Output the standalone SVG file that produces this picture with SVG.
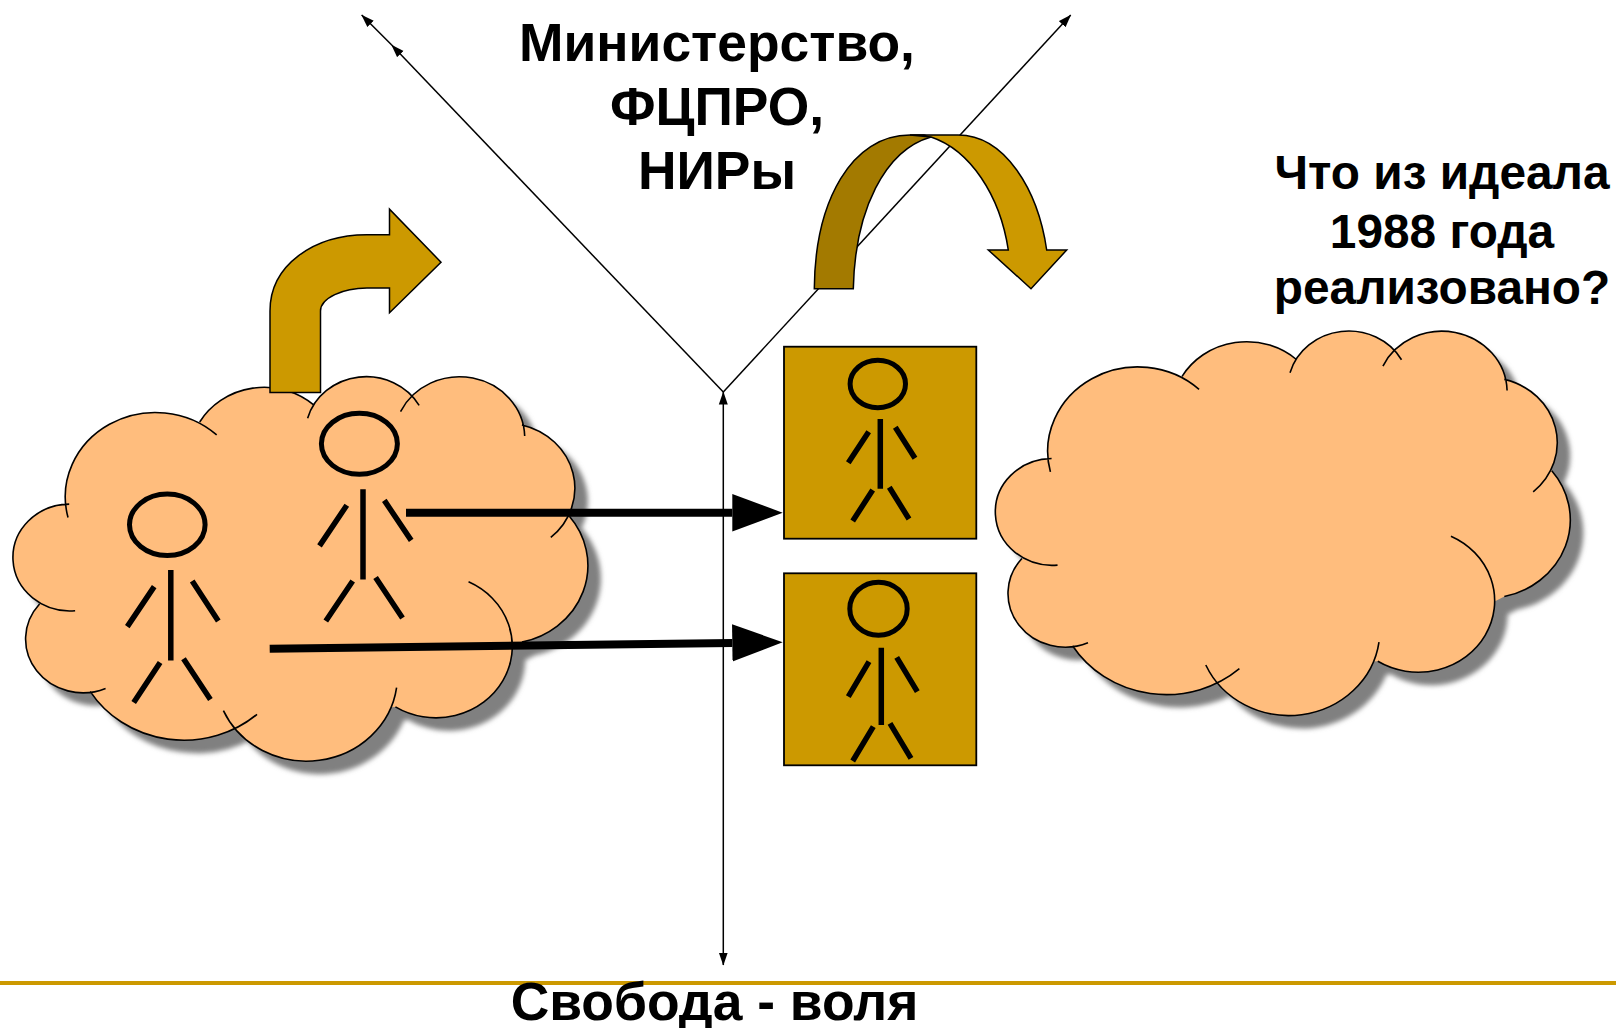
<svg xmlns="http://www.w3.org/2000/svg" xmlns:xlink="http://www.w3.org/1999/xlink" width="1616" height="1028" viewBox="0 0 1616 1028">
<style>
.t{font-family:"Liberation Sans",Arial,sans-serif;font-weight:bold;fill:#000;text-anchor:middle}
.big{font-size:53.4px}
.mid{font-size:47.8px}
.ol{fill:#CC9900;stroke:#000;stroke-width:1.5;stroke-linejoin:miter}
.limb{stroke:#000;stroke-width:5.5;fill:none}
.head{stroke:#000;stroke-width:5;fill:none}
.thin{stroke:#000;stroke-width:1.5;fill:none}
.thick{stroke:#000;stroke-width:8;fill:none}
.arc{fill:none;stroke:#000;stroke-width:1.6;vector-effect:non-scaling-stroke}
</style>
<defs>
<marker id="h" markerUnits="userSpaceOnUse" markerWidth="13" markerHeight="10" refX="12.5" refY="5" orient="auto"><path d="M0 .5L13 5L0 9.5Z" fill="#000"/></marker>
<marker id="hs" markerUnits="userSpaceOnUse" markerWidth="13" markerHeight="10" refX="12.5" refY="5" orient="auto-start-reverse"><path d="M0 .5L13 5L0 9.5Z" fill="#000"/></marker>
<marker id="H" markerUnits="userSpaceOnUse" markerWidth="51" markerHeight="38" refX="0" refY="19" orient="auto"><path d="M0 .3L50.4 19L0 37.7Z" fill="#000"/></marker>
<filter id="b" x="-10%" y="-10%" width="120%" height="120%"><feGaussianBlur stdDeviation="2.6"/></filter>
<path id="cf" d="M172 858A228 228 0 0 1 548 635ZM505 600A189 189 0 0 1 795 555ZM778 590A154 154 0 0 1 1060 555ZM1013 572A165 165 0 0 1 1327 638ZM1320 608A176 176 0 0 1 1393 912ZM1440 855A212 212 0 0 1 1320 1195ZM1185 1032A193 193 0 1 1 1000 1370ZM1003 1318A230 230 0 0 1 565 1380ZM650 1390A279 279 0 0 1 228 1328ZM267 1320A145 145 0 0 1 100 1092ZM190 1110A144.3 144.3 0 1 1 175 822ZM172 858L505 600L795 555L1060 555L1327 625L1400 760L1440 855L1320 1195L1000 1370L650 1390L228 1328L100 1092L190 1110Z"/>
<path id="cs" class="arc" d="M172 858A228 228 0 0 1 548 635M505 600A189 189 0 0 1 795 555M778 590A154 154 0 0 1 1060 555M1013 572A165 165 0 0 1 1327 638M1320 608A176 176 0 0 1 1393 912M1440 855A212 212 0 0 1 1320 1195M1185 1032A193 193 0 1 1 1000 1370M1003 1318A230 230 0 0 1 565 1380M650 1390A279 279 0 0 1 228 1328M267 1320A145 145 0 0 1 100 1092M190 1110A144.3 144.3 0 1 1 175 822"/>
</defs>
<rect width="1616" height="1028" fill="#fff"/>
<rect id="rule" x="0" y="981" width="1616" height="4" fill="#CC9900"/>

<g id="cloud-left">
<g fill="#808080" filter="url(#b)"><use href="#cf" transform="translate(13 13) matrix(.3954 0 0 .37 0 200)"/></g>
<use href="#cf" fill="#FFBD7D" transform="matrix(.3954 0 0 .37 0 200)"/>
<use href="#cs" transform="matrix(.3954 0 0 .37 0 200)"/>
</g>
<g id="cloud-right">
<g fill="#808080" filter="url(#b)"><use href="#cf" transform="translate(13 13) matrix(.3954 0 0 .37 982.4 154.4)"/></g>
<use href="#cf" fill="#FFBD7D" transform="matrix(.3954 0 0 .37 982.4 154.4)"/>
<use href="#cs" transform="matrix(.3954 0 0 .37 982.4 154.4)"/>
</g>

<g id="person-a">
<ellipse class="head" cx="167.3" cy="524.8" rx="37.8" ry="30.7"/>
<path class="limb" d="M170.8 570V660.6M154.2 586.6L127.3 626.6M192.2 581L218.3 621M160.1 662.5L133.7 702.4M183.5 658.8L210.4 699.4"/>
</g>
<g id="person-b">
<ellipse class="head" cx="359.4" cy="443.8" rx="38" ry="30.5"/>
<path class="limb" d="M363 489.3V579.6M346.8 505.2L319.5 545.9M384.3 500.4L411.2 540.4M352.7 581L325.8 621M375.6 577.4L402.5 618"/>
</g>

<g id="box-top">
<rect x="784" y="346.7" width="192.3" height="192" fill="#CC9900" stroke="#000" stroke-width="1.8"/>
<ellipse class="head" cx="877.8" cy="384" rx="27.7" ry="23.7"/>
<path class="limb" d="M880.3 419V488.7M868.7 431.7L848.3 462.7M895.3 427.3L915 458.3M872.7 490L852.7 521M889.3 487.3L909 519"/>
</g>
<g id="box-bottom">
<rect x="784" y="573.3" width="192.3" height="192" fill="#CC9900" stroke="#000" stroke-width="1.8"/>
<ellipse class="head" cx="878.5" cy="608.7" rx="28.7" ry="26.5"/>
<path class="limb" d="M881.3 647.7V725M869 661.7L848.3 696.7M896.7 657.3L917.3 691.7M873.3 726.7L852.7 761M890 723.3L911 758.3"/>
</g>

<g id="connectors">
<path class="thin" d="M723.3 392L1070.7 15" marker-end="url(#h)"/>
<path class="thin" d="M723.3 392L391.7 45" marker-end="url(#h)"/>
<path class="thin" d="M391.7 45L361.7 15" marker-end="url(#h)"/>
<path class="thin" d="M723.3 392V965" marker-start="url(#hs)" marker-end="url(#h)"/>
<path class="thick" d="M406 512.7H732.3" marker-end="url(#H)"/>
<path class="thick" d="M269.7 648.8L732.3 642.9" marker-end="url(#H)"/>
</g>

<g id="arrow-bent">
<path class="ol" d="M270 392.4H320.5V311C320.5 298 343 288 367 288H389.5V312.8L441 262.2L389.5 209.2V234.8H367C314 234.8 270 265 270 311Z"/>
</g>
<g id="arrow-curved">
<path class="ol" style="fill:#A37A00" d="M814.3 288.7C815 200 852 135 910 135H924L931 137C885 150 855 210 853.3 288.7Z"/>
<path class="ol" d="M910 135H958C1005 135 1038 190 1046.7 250H1066.7L1031 288.7L988.3 250H1008.3C1000 195 970 150 931 137Z"/>
</g>

<g id="labels">
<text class="t big" x="717" y="61">Министерство,</text>
<text class="t big" x="717" y="125">ФЦПРО,</text>
<text class="t big" x="717" y="189">НИРы</text>
<text class="t mid" x="1442" y="189">Что из идеала</text>
<text class="t mid" x="1442" y="247.5">1988 года</text>
<text class="t mid" x="1442" y="304">реализовано?</text>
<text class="t big" x="714.5" y="1020">Свобода - воля</text>
</g>
</svg>
